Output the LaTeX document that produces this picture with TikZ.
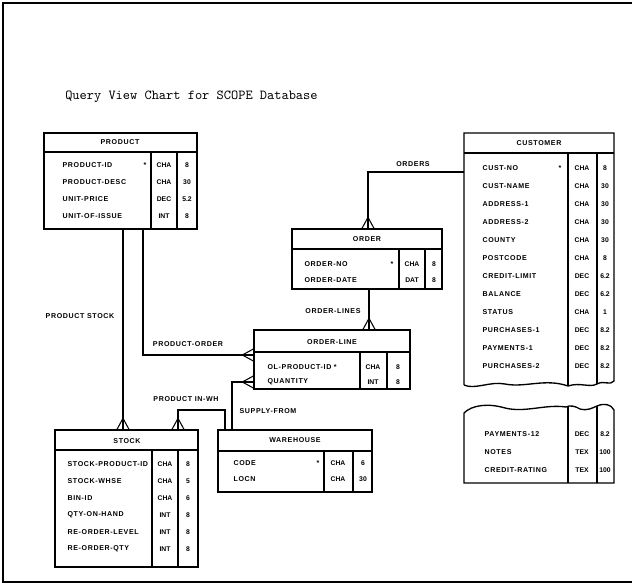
\documentclass[tikz,border=0pt]{standalone}
\usepackage{fontspec}
\setmainfont{Liberation Sans}
\usetikzlibrary{positioning,fit}

\tikzset{
  tbl/.style={draw, line width=1pt, inner sep=0pt},
  fld/.style={font=\fontsize{5.3}{6}\selectfont\bfseries\addfontfeature{LetterSpace=9},
    inner sep=1pt},
  col/.style={font=\fontsize{5.1}{6}\selectfont\bfseries, inner sep=1pt},
  rel/.style={line width=0.8pt},
  foot top/.pic={\draw[rel] (-6,0) -- (0,-11) -- (6,0);},
  foot left/.pic={\draw[rel] (0,-6) -- (-11,0) -- (0,6);},
}

\begin{document}
\begin{tikzpicture}[x=0.75pt, y=-0.75pt]
  \useasboundingbox (0,0) rectangle (632,584);

  % page frame
  \draw[line width=0.8pt] (632,3) -- (3,3) -- (3,582) -- (632,582);

  \node[anchor=base west, inner sep=0pt, font=\ttfamily\fontsize{10.3}{12}\selectfont]
    (title) at (65,100) {Query View Chart for SCOPE Database};

  % PRODUCT
  \node[tbl, fit={(44,133) (197,229)}] (product) {};
  \draw[line width=1pt] (44,152) -- (197,152);
  \draw[line width=1pt] (151,152) -- (151,229) (177,152) -- (177,229);
  \node[fld] (product-h) at (120,142) {PRODUCT};
  \foreach \y/\nm/\ty/\sz [count=\i] in
    {165/PRODUCT-ID/CHA/8, 182/PRODUCT-DESC/CHA/30,
     199/UNIT-PRICE/DEC/5.2, 216/UNIT-OF-ISSUE/INT/8}
    {
      \node[fld, anchor=west] (product-n\i) at (61,\y) {\nm};
      \node[col] (product-t\i) at (164,\y) {\ty};
      \node[col] (product-l\i) at (187,\y) {\sz};
    }
  \node[fld] (product-k) at (145,165) {*};

  % CUSTOMER
  \node[fit={(464,133) (614,384)}, inner sep=0pt] (customer) {};
  \draw[line width=1pt] (464,385) -- (464,133) -- (614,133) -- (614,381)
    .. controls (610,386) and (604,380) .. (597,384)
    .. controls (590,388) and (580,382) .. (568,386)
    .. controls (545,378) and (525,388) .. (505,384)
    .. controls (490,381) and (475,390) .. (464,385);
  \draw[line width=1pt] (464,153) -- (614,153);
  \draw[line width=1pt] (568,153) -- (568,386) (597,153) -- (597,384);
  \node[fld] (customer-h) at (539,143) {CUSTOMER};
  \foreach \nm/\ty/\sz [count=\i] in
    {CUST-NO/CHA/8, CUST-NAME/CHA/30, ADDRESS-1/CHA/30, ADDRESS-2/CHA/30,
     COUNTY/CHA/30, POSTCODE/CHA/8, CREDIT-LIMIT/DEC/6.2, BALANCE/DEC/6.2,
     STATUS/CHA/1, PURCHASES-1/DEC/8.2, PAYMENTS-1/DEC/8.2, PURCHASES-2/DEC/8.2}
    {
      \node[fld, anchor=west] (customer-n\i) at (481,150+18*\i) {\nm};
      \node[col] (customer-t\i) at (582,150+18*\i) {\ty};
      \node[col] (customer-l\i) at (605,150+18*\i) {\sz};
    }
  \node[fld] (customer-k) at (560,168) {*};

  % rest of CUSTOMER
  \draw[line width=1pt] (464,413) -- (464,483) -- (614,483) -- (614,410)
    .. controls (611,404) and (604,403) .. (597,406)
    .. controls (592,408) and (588,411) .. (580,409)
    .. controls (575,406) and (570,405) .. (566,407)
    .. controls (545,404) and (525,413) .. (505,408)
    .. controls (488,403) and (472,405) .. (464,413);
  \draw[line width=1pt] (568,406) -- (568,483) (597,406) -- (597,483);
  \foreach \y/\nm/\ty/\sz [count=\i] in
    {434/PAYMENTS-12/DEC/8.2, 452/NOTES/TEX/100, 470/CREDIT-RATING/TEX/100}
    {
      \node[fld, anchor=west] (more-n\i) at (483,\y) {\nm};
      \node[col] (more-t\i) at (582,\y) {\ty};
      \node[col] (more-l\i) at (605,\y) {\sz};
    }

  % ORDER
  \node[tbl, fit={(292,229) (442,289)}] (order) {};
  \draw[line width=1pt] (292,249) -- (442,249);
  \draw[line width=1pt] (399,249) -- (399,289) (425,249) -- (425,289);
  \node[fld] (order-h) at (367,239) {ORDER};
  \node[fld, anchor=west] (order-n1) at (303,264) {ORDER-NO};
  \node[fld, anchor=west] (order-n2) at (303,280) {ORDER-DATE};
  \node[fld] (order-k) at (392,264) {*};
  \node[col] (order-t1) at (412,264) {CHA};
  \node[col] (order-t2) at (412,280) {DAT};
  \node[col] (order-l1) at (434,264) {8};
  \node[col] (order-l2) at (434,280) {8};

  % ORDER-LINE
  \node[tbl, fit={(254,330) (410,389)}] (orderline) {};
  \draw[line width=1pt] (254,352) -- (410,352);
  \draw[line width=1pt] (360,352) -- (360,389) (387,352) -- (387,389);
  \node[fld] (orderline-h) at (332,342) {ORDER-LINE};
  \node[fld, anchor=west] (orderline-n1) at (266,367) {OL-PRODUCT-ID *};
  \node[fld, anchor=west] (orderline-n2) at (266,382) {QUANTITY};
  \node[col] (orderline-t1) at (373,367) {CHA};
  \node[col] (orderline-t2) at (373,382) {INT};
  \node[col] (orderline-l1) at (398,367) {8};
  \node[col] (orderline-l2) at (398,382) {8};

  % STOCK
  \node[tbl, fit={(55,430) (198,567)}] (stock) {};
  \draw[line width=1pt] (55,450) -- (198,450);
  \draw[line width=1pt] (152,450) -- (152,567) (178,450) -- (178,567);
  \node[fld] (stock-h) at (127,441) {STOCK};
  \foreach \nm/\ty/\sz [count=\i] in
    {STOCK-PRODUCT-ID/CHA/8, STOCK-WHSE/CHA/5, BIN-ID/CHA/6,
     QTY-ON-HAND/INT/8, RE-ORDER-LEVEL/INT/8, RE-ORDER-QTY/INT/8}
    {
      \node[fld, anchor=west] (stock-n\i) at (66,447+17*\i) {\nm};
      \node[col] (stock-t\i) at (165,447+17*\i) {\ty};
      \node[col] (stock-l\i) at (188,447+17*\i) {\sz};
    }

  % WAREHOUSE
  \node[tbl, fit={(218,430) (372,492)}] (warehouse) {};
  \draw[line width=1pt] (218,451) -- (372,451);
  \draw[line width=1pt] (324,451) -- (324,492) (353,451) -- (353,492);
  \node[fld] (warehouse-h) at (295,440) {WAREHOUSE};
  \node[fld, anchor=west] (warehouse-n1) at (232,463) {CODE};
  \node[fld, anchor=west] (warehouse-n2) at (232,479) {LOCN};
  \node[fld] (warehouse-k) at (318,463) {*};
  \node[col] (warehouse-t1) at (338,463) {CHA};
  \node[col] (warehouse-t2) at (338,479) {CHA};
  \node[col] (warehouse-l1) at (363,463) {6};
  \node[col] (warehouse-l2) at (363,479) {30};

  % relationships
  \coordinate (orders) at (368,172);
  \draw[rel] (orders -| customer.west) -- (orders) -- (orders |- order.north);
  \pic at (orders |- order.north) {foot top};
  \node[fld] (orders-lbl) at (413,164) {ORDERS};

  \coordinate (olines) at (369,0);
  \draw[rel] (olines |- order.south) -- (olines |- orderline.north);
  \pic at (olines |- orderline.north) {foot top};
  \node[fld] (olines-lbl) at (333,311) {ORDER-LINES};

  \coordinate (pstock) at (123,0);
  \draw[rel] (pstock |- product.south) -- (pstock |- stock.north);
  \pic at (pstock |- stock.north) {foot top};
  \node[fld] (pstock-lbl) at (80,316) {PRODUCT STOCK};

  \coordinate (porder) at (143,355);
  \draw[rel] (porder |- product.south) -- (porder) -- (porder -| orderline.west);
  \pic at (porder -| orderline.west) {foot left};
  \node[fld] (porder-lbl) at (188,344) {PRODUCT-ORDER};

  \coordinate (pwh) at (178,410);
  \coordinate (pwh2) at (225,410);
  \draw[rel] (pwh |- stock.north) -- (pwh) -- (pwh2) -- (pwh2 |- warehouse.north);
  \pic at (pwh |- stock.north) {foot top};
  \node[fld] (pwh-lbl) at (186,399) {PRODUCT IN-WH};

  \coordinate (supply) at (232,382);
  \draw[rel] (supply -| orderline.west) -- (supply) -- (supply |- warehouse.north);
  \pic at (supply -| orderline.west) {foot left};
  \node[fld] (supply-lbl) at (268,411) {SUPPLY-FROM};

\end{tikzpicture}
\end{document}
